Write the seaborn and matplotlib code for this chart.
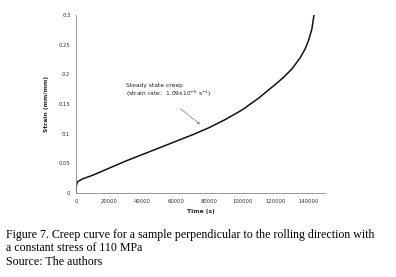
import numpy as np
import pandas as pd
import matplotlib
matplotlib.use("Agg")
import matplotlib.pyplot as plt
import seaborn as sns

# creep curve values
time_s = [0, 100, 250, 500, 1000, 2000, 4000, 7000, 10000, 15000, 20000, 30000,
          40000, 50000, 60000, 70000, 80000, 90000, 100000, 110000, 120000,
          125000, 130000, 135000, 138000, 140000, 142000, 143300]
strain = [0, 0.008, 0.013, 0.016, 0.019, 0.021, 0.024, 0.027, 0.030, 0.036,
          0.042, 0.054, 0.065, 0.076, 0.087, 0.098, 0.110, 0.124, 0.140,
          0.160, 0.183, 0.195, 0.209, 0.228, 0.243, 0.257, 0.276, 0.300]
x_ticks = [0, 20000, 40000, 60000, 80000, 100000, 120000, 140000]
y_ticks = [0, 0.05, 0.1, 0.15, 0.2, 0.25, 0.3]
y_tick_labels = ["0", "0.05", "0.1", "0.15", "0.2", "0.25", "0.3"]

df = pd.DataFrame({"Time (s)": time_s, "Strain (mm/mm)": strain})

sns.set_style("white")
plt.rcParams['font.family'] = ['DejaVu Sans']

fig = plt.figure(figsize=(3.96, 2.77), dpi=100)
ax = fig.add_axes([0.192, 0.303, 0.629, 0.643])

sns.lineplot(data=df, x="Time (s)", y="Strain (mm/mm)", ax=ax, color="#111111",
             lw=1.1, sort=False)

ax.set_xlim(0, 150000)
ax.set_ylim(0, 0.3)
ax.set_xticks(x_ticks)
ax.set_xticklabels([str(t) for t in x_ticks], fontsize=3.8, color="#333333")
ax.set_yticks(y_ticks)
ax.set_yticklabels(y_tick_labels, fontsize=3.8, color="#333333")
ax.tick_params(axis="both", length=2, width=0.5, color="#888888", pad=2, direction="out")
for side in ["top", "right"]:
    ax.spines[side].set_visible(False)
for side in ["left", "bottom"]:
    ax.spines[side].set_color("#888888")
    ax.spines[side].set_linewidth(0.6)

ax.set_xlabel("Time (s)", fontsize=4.3, fontweight="bold", labelpad=4)
ax.set_ylabel("Strain (mm/mm)", fontsize=4.3, fontweight="bold", labelpad=7)

ax.annotate("", xy=(76000, 0.113), xytext=(61600, 0.145),
            arrowprops=dict(arrowstyle="->", color="#777777", lw=0.5, mutation_scale=4))
ax.text(30200, 0.182, "Steady state creep", fontsize=4.3, color="#222222", va="center")
ax.text(30200, 0.167, "(strain rate:  1.09x10$^{-6}$ s$^{-1}$)", fontsize=4.3,
        color="#222222", va="center")

cap = dict(family=["Liberation Serif", "DejaVu Serif"], fontsize=8.6, color="black", va="center")
fig.text(0.016, 1 - 235 / 277, "Figure 7. Creep curve for a sample perpendicular to the rolling direction with", **cap)
fig.text(0.016, 1 - 248 / 277, "a constant stress of 110 MPa", **cap)
fig.text(0.016, 1 - 262 / 277, "Source: The authors", **cap)

fig.savefig("out.png", dpi=100)
